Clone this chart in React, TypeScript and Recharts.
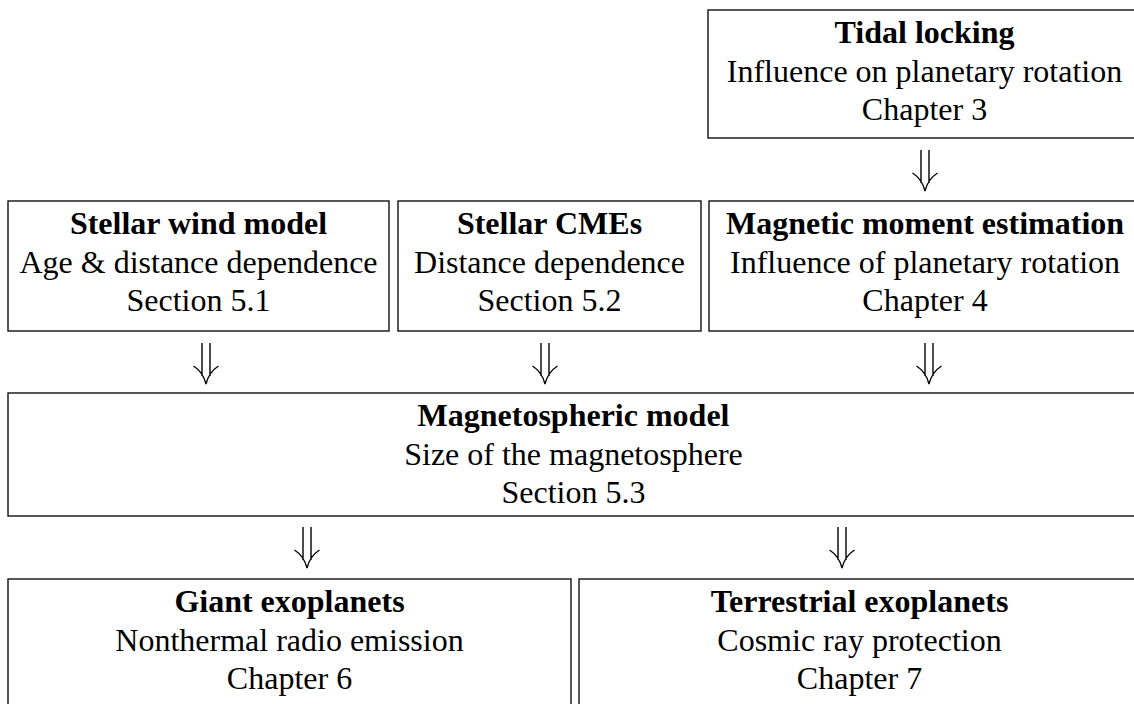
import React from "react";
import { ComposedChart, XAxis, YAxis, ReferenceArea, Scatter } from "recharts";

// Diagram boxes (coordinates in the diagram's own 1134 x 704 data space)
const boxTitles = [
  "Tidal locking",
  "Stellar wind model",
  "Stellar CMEs",
  "Magnetic moment estimation",
  "Magnetospheric model",
  "Giant exoplanets",
  "Terrestrial exoplanets",
];
const boxSubtitles = [
  "Influence on planetary rotation",
  "Age & distance dependence",
  "Distance dependence",
  "Influence of planetary rotation",
  "Size of the magnetosphere",
  "Nonthermal radio emission",
  "Cosmic ray protection",
];
const boxRefs = [
  "Chapter 3",
  "Section 5.1",
  "Section 5.2",
  "Chapter 4",
  "Section 5.3",
  "Chapter 6",
  "Chapter 7",
];
const boxLeft = [708, 8, 398, 709, 8, 8, 579];
const boxRight = [1141, 389, 701, 1141, 1139, 571, 1140];
const boxTop = [10, 201, 201, 201, 393, 579, 579];
const boxBottom = [138, 331, 331, 331, 516, 720, 720];

// Double arrows (⇓): centre x and vertical middle
const arrowX = [925, 206, 545, 929, 307, 842];
const arrowY = [170, 363, 363, 363, 547, 547];

const arrowData = arrowX.map((x, i) => ({ x, y: arrowY[i] }));

const FONT = '"Liberation Serif", "Times New Roman", Times, serif';

const makeBoxShape = (i: number) => (props: any) => {
  const { x, y, width, height } = props;
  const cx = x + width / 2;
  return (
    <g>
      <rect
        x={x}
        y={y}
        width={width}
        height={height}
        fill="#fff"
        stroke="#111"
        strokeWidth={1.4}
      />
      <text
        x={cx}
        y={y + 33}
        textAnchor="middle"
        fontFamily={FONT}
        fontSize={32}
        fontWeight="bold"
        fill="#000"
      >
        {boxTitles[i]}
      </text>
      <text
        x={cx}
        y={y + 72}
        textAnchor="middle"
        fontFamily={FONT}
        fontSize={32}
        fill="#000"
      >
        {boxSubtitles[i]}
      </text>
      <text
        x={cx}
        y={y + 110}
        textAnchor="middle"
        fontFamily={FONT}
        fontSize={32}
        fill="#000"
      >
        {boxRefs[i]}
      </text>
    </g>
  );
};

const ArrowShape = (props: any) => {
  const { cx, cy } = props;
  if (cx == null || cy == null) return null;
  const top = cy - 20;
  const d = [
    `M ${cx - 4} ${top} L ${cx - 4} ${top + 33}`,
    `M ${cx + 4} ${top} L ${cx + 4} ${top + 33}`,
    `M ${cx - 12.5} ${top + 23} Q ${cx - 3} ${top + 29} ${cx} ${top + 41}`,
    `M ${cx + 12.5} ${top + 23} Q ${cx + 3} ${top + 29} ${cx} ${top + 41}`,
  ].join(" ");
  return <path d={d} fill="none" stroke="#000" strokeWidth={1.4} />;
};

export default function App() {
  return (
    <div style={{ position: "absolute", left: 0, top: 0, background: "#fff" }}>
      <ComposedChart
        width={1134}
        height={704}
        data={arrowData}
        margin={{ top: 0, right: 0, bottom: 0, left: 0 }}
      >
        <XAxis
          type="number"
          dataKey="x"
          domain={[0, 1134]}
          allowDataOverflow
          hide
        />
        <YAxis
          type="number"
          dataKey="y"
          domain={[0, 704]}
          allowDataOverflow
          reversed
          hide
        />
        {boxTitles.map((t, i) => (
          <ReferenceArea
            key={t}
            x1={boxLeft[i]}
            x2={boxRight[i]}
            y1={boxTop[i]}
            y2={boxBottom[i]}
            ifOverflow="visible"
            shape={makeBoxShape(i)}
          />
        ))}
        <Scatter
          data={arrowData}
          dataKey="y"
          shape={<ArrowShape />}
          isAnimationActive={false}
        />
      </ComposedChart>
    </div>
  );
}
